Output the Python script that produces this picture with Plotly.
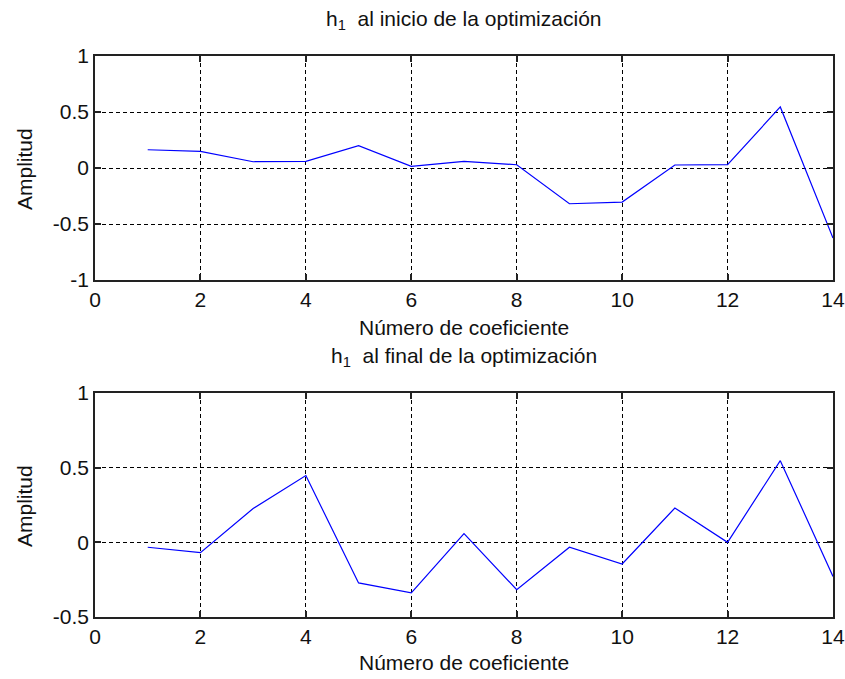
import plotly.graph_objects as go

# Coefficient index and amplitudes of h1 before/after the optimization
coef_idx = list(range(1, 15))
h1_inicio = [0.163, 0.148, 0.056, 0.060, 0.199, 0.015, 0.059, 0.029,
             -0.319, -0.304, 0.027, 0.030, 0.545, -0.625]
h1_final = [-0.033, -0.069, 0.226, 0.447, -0.272, -0.339, 0.058, -0.317,
            -0.033, -0.145, 0.230, 0.000, 0.547, -0.228]

x_ticks = [0, 2, 4, 6, 8, 10, 12, 14]
x_ticktext = ["0", "2", "4", "6", "8", "10", "12", "14"]
y_ticks_top = [-1, -0.5, 0, 0.5, 1]
y_ticktext_top = ["-1", "-0.5", "0", "0.5", "1"]
y_ticks_bot = [-0.5, 0, 0.5, 1]
y_ticktext_bot = ["-0.5", "0", "0.5", "1"]

titles = ["h<sub>1</sub>  al inicio de la optimización",
          "h<sub>1</sub>  al final de la optimización"]
xlabel = "Número de coeficiente"
ylabel = "Amplitud"

W, H = 845, 679
FONT = "Liberation Sans, Arial, sans-serif"
FS = 21

# pixel geometry of the two axes boxes
x0_px, x1_px = 95, 833
top_box = (56, 280)
bot_box = (393, 617)


def py(p):
    return 1 - p / H


fig = go.Figure()
fig.add_trace(go.Scatter(x=coef_idx, y=h1_inicio, mode="lines",
                         line=dict(color="#0000ff", width=1.2),
                         xaxis="x", yaxis="y", showlegend=False))
fig.add_trace(go.Scatter(x=coef_idx, y=h1_final, mode="lines",
                         line=dict(color="#0000ff", width=1.2),
                         xaxis="x2", yaxis="y2", showlegend=False))

common_axis = dict(
    showline=True, linecolor="#222", linewidth=1.5, mirror="ticks",
    ticks="inside", ticklen=6, tickcolor="#222", tickwidth=1.5,
    showgrid=True, gridcolor="#000", gridwidth=1, griddash="4px,3px",
    zeroline=False, tickfont=dict(family=FONT, size=FS, color="#111"),
    fixedrange=True, automargin=False,
)

xdom = [x0_px / W, x1_px / W]
fig.update_layout(
    width=W, height=H,
    margin=dict(l=0, r=0, t=0, b=0, pad=0),
    paper_bgcolor="white", plot_bgcolor="white",
    font=dict(family=FONT, size=FS, color="#111"),
    xaxis=dict(domain=xdom, range=[0, 14], tickvals=x_ticks, ticktext=x_ticktext,
               anchor="y", **common_axis),
    yaxis=dict(domain=[py(top_box[1]), py(top_box[0])], range=[-1, 1],
               tickvals=y_ticks_top, ticktext=y_ticktext_top, anchor="x", **common_axis),
    xaxis2=dict(domain=xdom, range=[0, 14], tickvals=x_ticks, ticktext=x_ticktext,
                anchor="y2", **common_axis),
    yaxis2=dict(domain=[py(bot_box[1]), py(bot_box[0])], range=[-0.5, 1],
                tickvals=y_ticks_bot, ticktext=y_ticktext_bot, anchor="x2", **common_axis),
)

xc = (x0_px + x1_px) / 2 / W
ann = []
for title, (t, b), xl_y in [(titles[0], top_box, 327), (titles[1], bot_box, 662)]:
    ann.append(dict(text=title, x=xc, y=py(t - 36), xref="paper", yref="paper",
                    xanchor="center", yanchor="middle", showarrow=False,
                    font=dict(family=FONT, size=FS, color="#111")))
    ann.append(dict(text=xlabel, x=xc, y=py(xl_y), xref="paper", yref="paper",
                    xanchor="center", yanchor="middle", showarrow=False,
                    font=dict(family=FONT, size=FS, color="#111")))
    ann.append(dict(text=ylabel, x=24 / W, y=py((t + b) / 2 + 1), xref="paper", yref="paper",
                    xanchor="center", yanchor="middle", showarrow=False, textangle=-90,
                    font=dict(family=FONT, size=FS, color="#111")))
fig.update_layout(annotations=ann)

# remove the page's default body margin so the figure sits at the window origin
fig.write_html("out.html",
               post_script="document.body.style.margin='0px';"
                           "document.body.style.overflow='hidden';")
